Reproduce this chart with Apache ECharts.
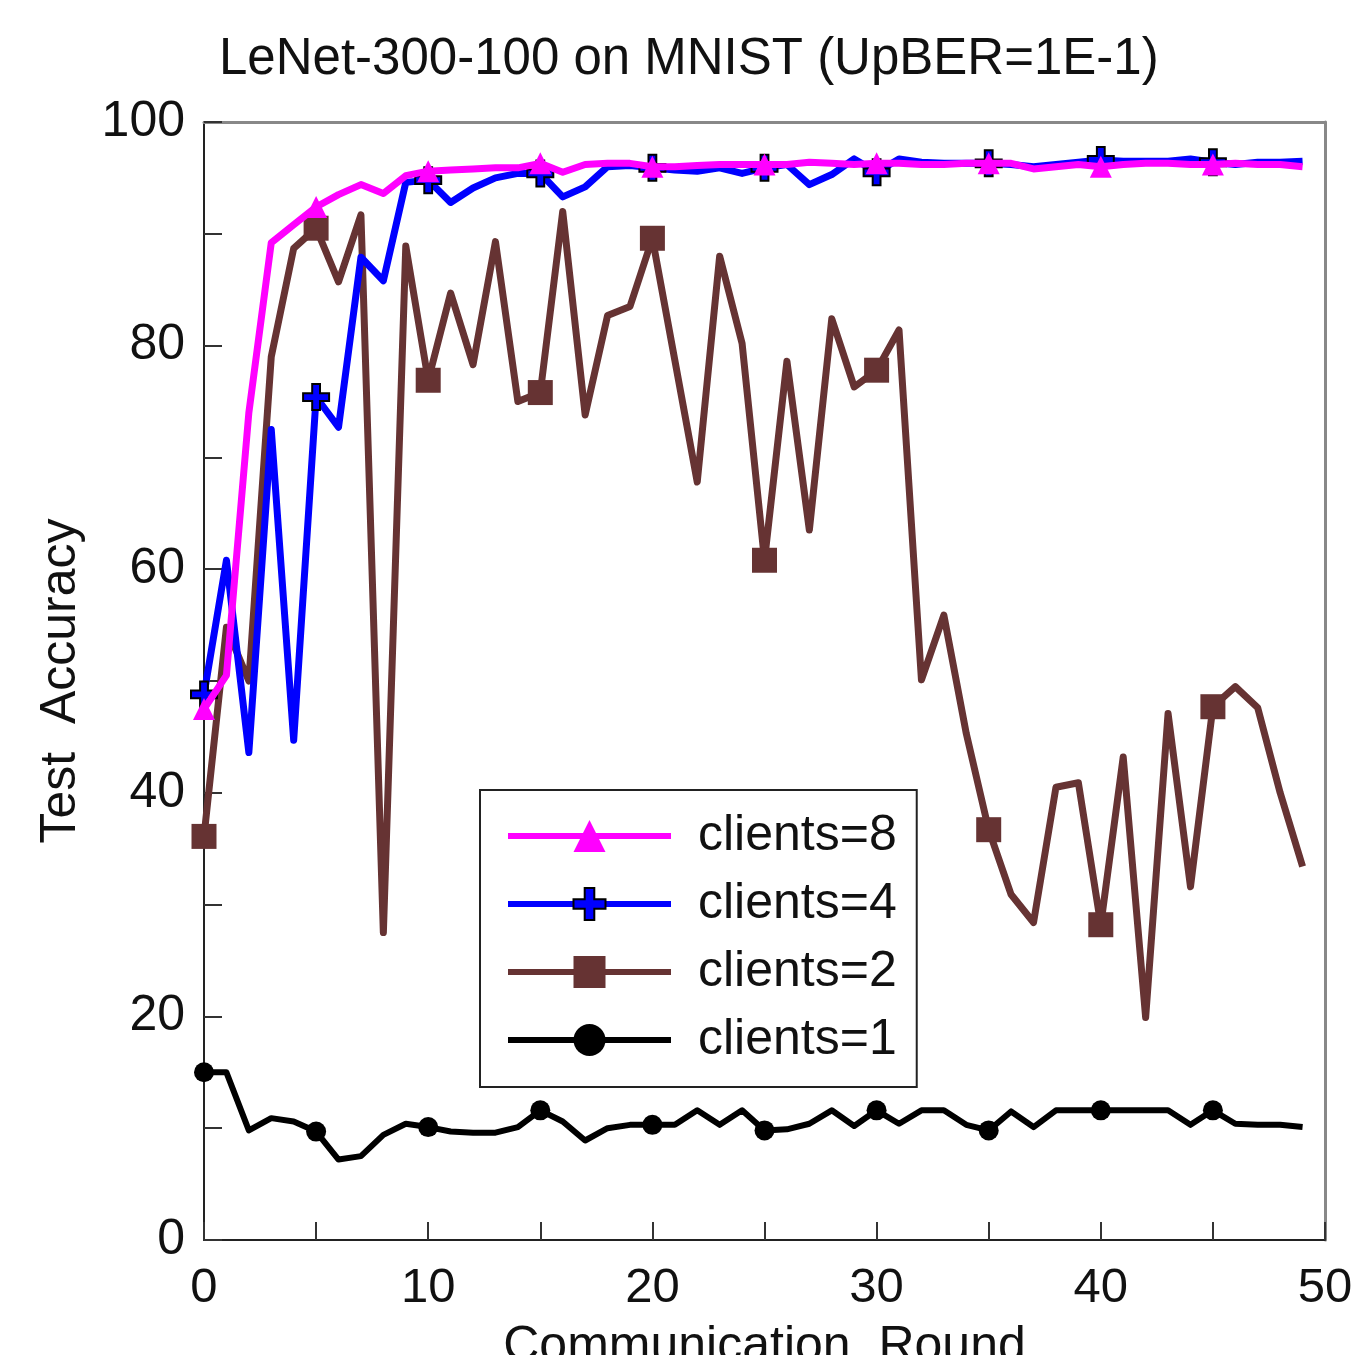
<!DOCTYPE html>
<html>
<head>
<meta charset="utf-8">
<script src="https://cdn.jsdelivr.net/npm/echarts@6/dist/echarts.min.js"></script>
<style>
html,body{margin:0;padding:0;background:#fff;overflow:hidden;}
#chart{width:1353px;height:1355px;}
</style>
</head>
<body>
<div id="chart"></div>
<script>
const rounds = Array.from({length: 50}, (_, i) => i);
const clients8 = [47.5,50.5,74.0,89.2,90.8,92.4,93.5,94.4,93.6,95.2,95.6,95.7,95.8,95.9,95.9,96.3,95.5,96.2,96.3,96.3,96.0,96.0,96.1,96.2,96.2,96.2,96.2,96.4,96.3,96.2,96.3,96.3,96.2,96.2,96.3,96.3,96.3,95.8,96.0,96.2,96.0,96.2,96.3,96.3,96.2,96.2,96.3,96.2,96.2,96.0];
const clients4 = [48.8,60.8,43.6,72.5,44.7,75.4,72.7,87.9,85.8,94.6,94.8,92.8,94.1,95.0,95.4,95.4,93.3,94.2,96.0,96.1,95.9,95.7,95.6,95.9,95.4,95.9,96.2,94.4,95.3,96.7,95.5,96.7,96.4,96.3,96.3,96.3,96.2,96.0,96.2,96.4,96.6,96.5,96.5,96.5,96.7,96.4,96.2,96.4,96.4,96.5];
const clients2 = [36.1,54.8,50.0,79.0,88.7,90.5,85.7,91.7,27.5,88.9,76.9,84.7,78.3,89.3,75.0,75.8,92.0,73.8,82.7,83.5,89.6,78.7,67.8,88.0,80.2,60.8,78.6,63.5,82.4,76.3,77.8,81.4,50.1,55.9,45.3,36.7,30.9,28.4,40.5,40.9,28.2,43.2,19.9,47.1,31.6,47.7,49.5,47.6,40.0,33.4];
const clients1 = [15.0,15.0,9.8,10.9,10.6,9.7,7.2,7.5,9.4,10.4,10.1,9.7,9.6,9.6,10.1,11.6,10.6,8.9,10.0,10.3,10.3,10.3,11.6,10.3,11.6,9.8,9.9,10.4,11.6,10.2,11.6,10.4,11.6,11.6,10.3,9.8,11.5,10.1,11.6,11.6,11.6,11.6,11.6,11.6,10.3,11.6,10.4,10.3,10.3,10.1];
const xTicks = [0,10,20,30,40,50];
const yTicks = [0,20,40,60,80,100];
const titleText = 'LeNet-300-100 on MNIST (UpBER=1E-1)';

const FONT = '"Liberation Sans", Arial, sans-serif';
const plusPath = 'path://M35,0 H65 V35 H100 V65 H65 V100 H35 V65 H0 V35 H35 Z';

function pairs(arr){ return rounds.map((r,i)=>[r, arr[i]]); }
function markerSize(s){ return function(val, params){ return params.dataIndex % 5 === 0 ? s : 0; }; }

const chart = echarts.init(document.getElementById('chart'), null, {renderer:'canvas'});
const tickStyle = {color:'#333', width:2};
chart.setOption({
  animation:false,
  backgroundColor:'#fff',
  title:{text:titleText, left:214, top:29, textStyle:{fontFamily:FONT, fontSize:51, fontWeight:'normal', color:'#111'}},
  grid:{left:204, top:122, right:28, bottom:115, containLabel:false, outerBoundsMode:'none'},
  legend:{
    data:['clients=8','clients=4','clients=2','clients=1'],
    orient:'vertical', left:480, top:790,
    itemWidth:163, itemHeight:40, itemGap:18,
    padding:[21,20,22,25],
    borderColor:'#222', borderWidth:2, backgroundColor:'#fff',
    lineStyle:{width:6},
    textStyle:{fontFamily:FONT, fontSize:50, color:'#111', padding:[0,0,0,22]}
  },
  xAxis:[{
    type:'value', min:0, max:50, interval:10, position:'bottom',
    name:'Communication  Round', nameLocation:'middle', nameGap:82,
    nameTextStyle:{fontFamily:FONT, fontSize:50, color:'#111'},
    axisLine:{show:true, onZero:false, lineStyle:{color:'#222', width:2}},
    axisTick:{show:true, inside:true, length:18, lineStyle:tickStyle},
    minorTick:{show:true, splitNumber:2, length:18, lineStyle:tickStyle},
    axisLabel:{fontFamily:FONT, fontSize:49, color:'#111', margin:24, formatter:v=>xTicks.includes(v)?String(v):''},
    splitLine:{show:false}
  },{
    type:'value', min:0, max:50, position:'top',
    axisLine:{show:true, onZero:false, lineStyle:{color:'#888', width:3}},
    axisTick:{show:false}, axisLabel:{show:false}, splitLine:{show:false}
  }],
  yAxis:[{
    type:'value', min:0, max:100, interval:20, position:'left',
    name:'Test  Accuracy', nameLocation:'middle', nameGap:118,
    nameTextStyle:{fontFamily:FONT, fontSize:50, color:'#111'},
    axisLine:{show:true, onZero:false, lineStyle:{color:'#222', width:2}},
    axisTick:{show:true, inside:true, length:18, lineStyle:tickStyle},
    minorTick:{show:true, splitNumber:2, length:18, lineStyle:tickStyle},
    axisLabel:{fontFamily:FONT, fontSize:50, color:'#111', margin:19, formatter:v=>yTicks.includes(v)?String(v):''},
    splitLine:{show:false}
  },{
    type:'value', min:0, max:100, position:'right',
    axisLine:{show:true, onZero:false, lineStyle:{color:'#888', width:3}},
    axisTick:{show:false}, axisLabel:{show:false}, splitLine:{show:false}
  }],
  series:[
    {name:'clients=1', type:'line', data:pairs(clients1), z:2,
     symbol:'circle', symbolSize:markerSize(20), showAllSymbol:true,
     lineStyle:{color:'#000', width:6, join:'round'}, itemStyle:{color:'#000'}},
    {name:'clients=2', type:'line', data:pairs(clients2), z:3,
     symbol:'rect', symbolSize:markerSize(25), showAllSymbol:true,
     lineStyle:{color:'#663333', width:7, join:'round'}, itemStyle:{color:'#663333'}},
    {name:'clients=4', type:'line', data:pairs(clients4), z:4,
     symbol:plusPath, symbolSize:markerSize(26), showAllSymbol:true,
     lineStyle:{color:'#0000FF', width:7, join:'round'}, itemStyle:{color:'#0000FF', borderColor:'#000', borderWidth:2}},
    {name:'clients=8', type:'line', data:pairs(clients8), z:5,
     symbol:'triangle', symbolSize:markerSize(22), showAllSymbol:true,
     lineStyle:{color:'#FF00FF', width:7, join:'round'}, itemStyle:{color:'#FF00FF'}}
  ]
});
</script>
</body>
</html>
